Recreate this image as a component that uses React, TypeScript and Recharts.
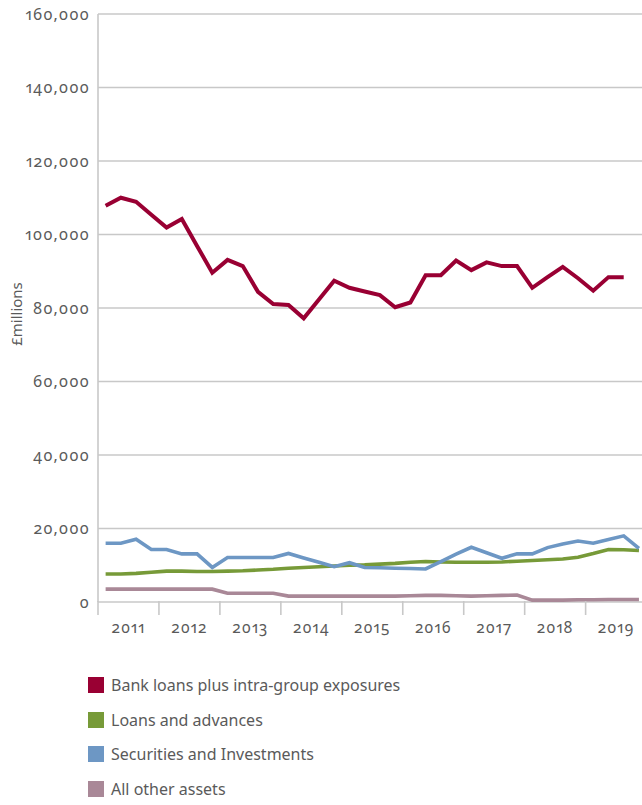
import React from 'react';
import { LineChart, Line, XAxis, YAxis, CartesianGrid } from 'recharts';

// Quarterly categories, 2011 Q1 – 2019 Q4
const quarters = [
  '2011 Q1', '2011 Q2', '2011 Q3', '2011 Q4',
  '2012 Q1', '2012 Q2', '2012 Q3', '2012 Q4',
  '2013 Q1', '2013 Q2', '2013 Q3', '2013 Q4',
  '2014 Q1', '2014 Q2', '2014 Q3', '2014 Q4',
  '2015 Q1', '2015 Q2', '2015 Q3', '2015 Q4',
  '2016 Q1', '2016 Q2', '2016 Q3', '2016 Q4',
  '2017 Q1', '2017 Q2', '2017 Q3', '2017 Q4',
  '2018 Q1', '2018 Q2', '2018 Q3', '2018 Q4',
  '2019 Q1', '2019 Q2', '2019 Q3', '2019 Q4',
];

const yearLabels = ['2011', '2012', '2013', '2014', '2015', '2016', '2017', '2018', '2019'];
// positions (in quarter index units) of year boundaries and year centres
const yearBoundaries = [-0.5, 3.5, 7.5, 11.5, 15.5, 19.5, 23.5, 27.5, 31.5];
const yearCentres = [1.5, 5.5, 9.5, 13.5, 17.5, 21.5, 25.5, 29.5, 33.5];

const yTicks = [0, 20000, 40000, 60000, 80000, 100000, 120000, 140000, 160000];

// £ millions
const bankLoans = [
  107800, 110000, 108900, 105400, 101900, 104200, 96900, 89600,
  93100, 91400, 84400, 81100, 80800, 77200, 82300, 87400,
  85500, 84500, 83500, 80200, 81500, 88900, 88900, 92900,
  90300, 92400, 91400, 91400, 85500, 88400, 91200, 88100,
  84700, 88400, 88400, null,
];
const loansAdvances = [
  7600, 7600, 7800, 8100, 8400, 8400, 8300, 8300,
  8400, 8500, 8700, 8900, 9200, 9400, 9600, 9800,
  10000, 10100, 10300, 10500, 10800, 11000, 10900, 10800,
  10800, 10800, 10900, 11100, 11300, 11500, 11700, 12200,
  13200, 14300, 14200, 14000,
];
const securities = [
  16000, 16000, 17100, 14300, 14300, 13100, 13100, 9400,
  12100, 12100, 12100, 12100, 13200, 12000, 10800, 9600,
  10700, 9400, 9300, 9200, 9100, 9000, 11000, 13000,
  14900, 13400, 11900, 13100, 13100, 14800, 15800, 16600,
  16000, 17000, 18000, 14600,
];
const otherAssets = [
  3500, 3500, 3500, 3500, 3500, 3500, 3500, 3500,
  2400, 2400, 2400, 2400, 1600, 1600, 1600, 1600,
  1600, 1600, 1600, 1600, 1700, 1800, 1800, 1700,
  1600, 1700, 1800, 1900, 500, 500, 500, 600,
  600, 700, 700, 700,
];

const seriesNames = [
  'Bank loans plus intra-group exposures',
  'Loans and advances',
  'Securities and Investments',
  'All other assets',
];
const seriesKeys = ['bank', 'loans', 'secs', 'other'];
const seriesColors = ['#990033', '#779a38', '#6d97c4', '#a98897'];

const data = quarters.map((q, i) => ({
  i,
  q,
  bank: bankLoans[i],
  loans: loansAdvances[i],
  secs: securities[i],
  other: otherAssets[i],
}));

const TEXT = '#5a5a5a';
const GRID = '#c8c8c8';

const XTick = (props: any) => {
  const { x, y, payload } = props;
  const v = payload.value;
  const bi = yearBoundaries.indexOf(v);
  if (bi >= 0) {
    return <line x1={x} x2={x} y1={y - 1} y2={y + 13} stroke={GRID} strokeWidth={1.6} />;
  }
  const ci = yearCentres.indexOf(v);
  if (ci >= 0) {
    return (
      <text x={x} y={y + 31} textAnchor="middle" fill={TEXT} fontSize={15.5} letterSpacing={1}>
        {yearLabels[ci]}
      </text>
    );
  }
  return null;
};

const YLabel = (props: any) => {
  const { viewBox } = props;
  const cx = viewBox.x + 22;
  const cy = viewBox.y + viewBox.height / 2 + 6;
  return (
    <text
      x={cx}
      y={cy}
      transform={`rotate(-90 ${cx} ${cy})`}
      textAnchor="middle"
      fill={TEXT}
      fontSize={15}
    >
      £millions
    </text>
  );
};

const allXTicks = [...yearBoundaries, ...yearCentres].sort((a, b) => a - b);

export default function App() {
  return (
    <div
      style={{
        position: 'absolute',
        left: 0,
        top: 0,
        width: 642,
        height: 805,
        background: '#fff',
        fontFamily: '"Noto Sans", "Open Sans", sans-serif',
        fontVariantNumeric: 'oldstyle-nums proportional-nums',
        fontFeatureSettings: '"onum" 1, "pnum" 1',
      }}
    >
      <LineChart
        width={642}
        height={640}
        data={data}
        margin={{ top: 14, right: 0, bottom: 8, left: 0 }}
      >
        <CartesianGrid vertical={false} stroke={GRID} strokeWidth={1.6} />
        <XAxis
          dataKey="i"
          type="number"
          domain={[-0.5, 35.2]}
          ticks={allXTicks}
          interval={0}
          height={30}
          axisLine={false}
          tickLine={false}
          tickSize={0}
          tickMargin={0}
          tick={<XTick />}
        />
        <YAxis
          type="number"
          domain={[0, 160000]}
          ticks={yTicks}
          interval={0}
          width={98}
          axisLine={{ stroke: GRID, strokeWidth: 1.6 }}
          tickLine={false}
          tickSize={0}
          tickMargin={8}
          tick={{ fill: TEXT, fontSize: 16, letterSpacing: 1 }}
          tickFormatter={(v: number) => v.toLocaleString('en-GB')}
          label={<YLabel />}
        />
        {seriesKeys.map((k, idx) => (
          <Line
            key={k}
            type="linear"
            dataKey={k}
            name={seriesNames[idx]}
            stroke={seriesColors[idx]}
            strokeWidth={idx === 0 ? 4 : 3.6}
            dot={false}
            activeDot={false}
            isAnimationActive={false}
            connectNulls={false}
          />
        ))}
      </LineChart>
      <div style={{ position: 'absolute', left: 88, top: 677 }}>
        {seriesNames.map((name, idx) => (
          <div
            key={name}
            style={{ display: 'flex', alignItems: 'center', height: 16, marginBottom: 18.7 }}
          >
            <span
              style={{ display: 'inline-block', width: 16, height: 16, background: seriesColors[idx] }}
            />
            <span style={{ marginLeft: 7, fontSize: 16, color: TEXT, whiteSpace: 'nowrap' }}>{name}</span>
          </div>
        ))}
      </div>
    </div>
  );
}
